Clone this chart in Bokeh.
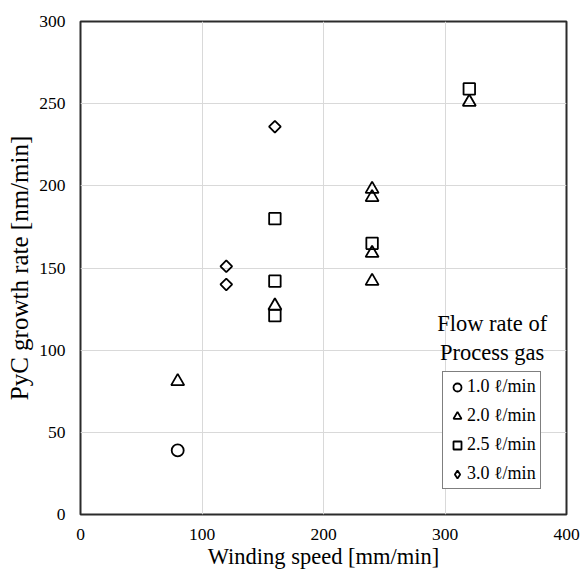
import numpy as np
from bokeh.plotting import figure
from bokeh.models import Legend, LegendItem, Label, FixedTicker, Range1d
from bokeh.embed import file_html
from bokeh.resources import INLINE

# ---- data ----
speed_10 = [80]
rate_10 = [39]
speed_20 = [80, 160, 240, 240, 240, 240, 320]
rate_20 = [81, 127, 142, 159, 193, 198, 251]
speed_25 = [160, 160, 160, 240, 320]
rate_25 = [121, 142, 180, 165, 259]
speed_30 = [120, 120, 160]
rate_30 = [140, 151, 236]

x_ticks = [0, 100, 200, 300, 400]
y_ticks = [0, 50, 100, 150, 200, 250, 300]
legend_labels = ["1.0 \u2113/min", "2.0 \u2113/min", "2.5 \u2113/min", "3.0 \u2113/min"]
legend_title = ["Flow rate of", "Process gas"]

FONT = "Liberation Serif"

p = figure(width=581, height=574, output_backend="svg",
           toolbar_location=None, x_range=Range1d(0, 400), y_range=Range1d(0, 300),
           min_border_left=80, min_border_top=21, min_border_right=15, min_border_bottom=60)
p.background_fill_color = "white"
p.border_fill_color = "white"
p.outline_line_color = "#2b2b2b"
p.outline_line_width = 2

for ax in (p.xaxis[0], p.yaxis[0]):
    ax.axis_line_color = None
    ax.major_tick_line_color = None
    ax.minor_tick_line_color = None
    ax.major_tick_out = 0
    ax.major_tick_in = 0
    ax.minor_tick_out = 0
    ax.minor_tick_in = 0
    ax.major_label_text_font = FONT
    ax.major_label_text_font_size = "17.5px"
    ax.major_label_text_color = "black"
    ax.axis_label_text_font = FONT
    ax.axis_label_text_font_style = "normal"
    ax.axis_label_text_color = "black"

p.xaxis.axis_label_text_font_size = "22.5px"
p.yaxis.axis_label_text_font_size = "25px"
p.xaxis.ticker = FixedTicker(ticks=x_ticks)
p.yaxis.ticker = FixedTicker(ticks=y_ticks)
p.xaxis.axis_label = "Winding speed [mm/min]"
p.yaxis.axis_label = "PyC growth rate [nm/min]"
p.xaxis.major_label_standoff = 14
p.xaxis.axis_label_standoff = 1
p.yaxis.major_label_standoff = 15
p.yaxis.axis_label_standoff = 3

p.xgrid.ticker = FixedTicker(ticks=x_ticks)
p.ygrid.ticker = FixedTicker(ticks=y_ticks)
p.grid.grid_line_color = "#d9d9d9"
p.grid.grid_line_width = 1

LW = 1.8
r1 = p.scatter(speed_10, rate_10, marker="circle", size=12, fill_color=None,
               line_color="black", line_width=LW)
r2 = p.scatter(speed_20, rate_20, marker="triangle", size=13, fill_color=None,
               line_color="black", line_width=LW)
r3 = p.scatter(speed_25, rate_25, marker="square", size=11.5, fill_color=None,
               line_color="black", line_width=LW)
r4 = p.scatter(speed_30, rate_30, marker="square", size=8.3, angle=np.pi / 4,
               fill_color=None, line_color="black", line_width=LW)
# legend-only glyph for the diamond series (a non-drawn NaN point)
r4_leg = p.scatter(x=[np.nan], y=[np.nan], marker="diamond", size=12, fill_color=None,
                   line_color="black", line_width=LW)

legend = Legend(items=[LegendItem(label=l, renderers=[r], index=0) for l, r in
                       zip(legend_labels, [r1, r2, r3, r4_leg])],
                location=(362, 25), orientation="vertical",
                border_line_color="black", border_line_width=1,
                background_fill_color="white", background_fill_alpha=1,
                label_text_font=FONT, label_text_font_size="18px",
                label_text_color="black",
                glyph_width=20, glyph_height=20, label_standoff=0,
                padding=4, spacing=8, margin=0, label_height=20)
p.add_layout(legend, "center")

for i, t in enumerate(legend_title):
    p.add_layout(Label(x=338.8, y=116.2 - 17.4 * i, text=t, text_font=FONT,
                       text_font_size="22.5px", text_align="center",
                       text_baseline="middle", text_color="black"))

open("out.html", "w").write(file_html(p, INLINE))
